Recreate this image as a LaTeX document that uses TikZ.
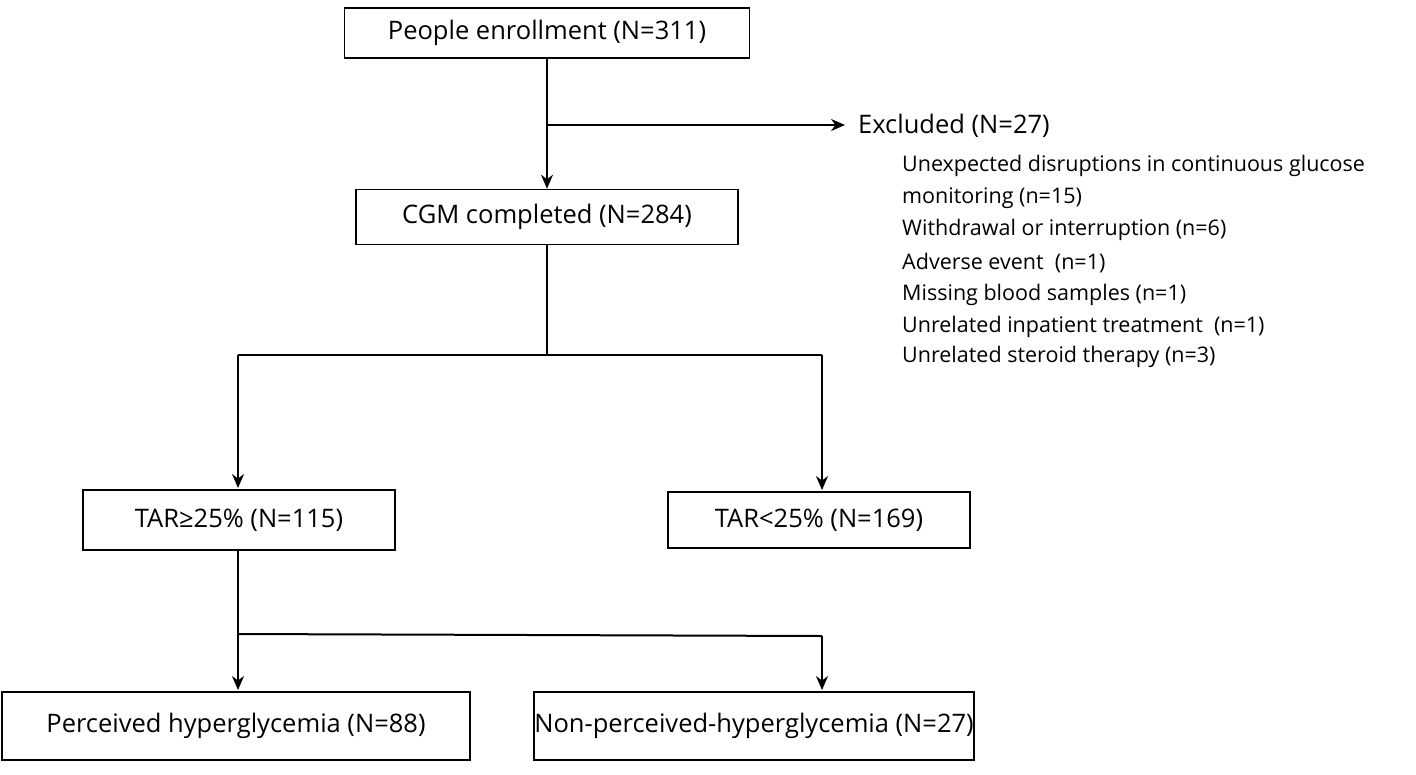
\documentclass[tikz,border=0pt]{standalone}
\usepackage{fontspec}
\setmainfont{Open Sans}
\usetikzlibrary{arrows.meta}
\begin{document}
\begin{tikzpicture}[x=1pt,y=-1pt,
  box/.style={draw,line width=1.6pt,inner sep=0pt,font=\fontsize{25.5}{30}\selectfont},
  ln/.style={line width=2pt},
  arr/.style={line width=2pt,-{Stealth[length=14pt,width=12pt]}},
  lst/.style={anchor=west,inner sep=0pt,font=\fontsize{21.5}{26}\selectfont}]
\useasboundingbox (0,0) rectangle (1416,774);
\node[box,minimum width=405,minimum height=50] (b1) at (547,33) {People enrollment (N=311)};
\node[box,minimum width=382,minimum height=55] (b2) at (547,217) {CGM completed (N=284)};
\node[box,minimum width=312,minimum height=60] (b3) at (239,520) {TAR≥25\% (N=115)};
\node[box,minimum width=302,minimum height=56] (b4) at (819,520) {TAR<25\% (N=169)};
\node[box,minimum width=468,minimum height=68] (b5) at (236,726) {Perceived hyperglycemia (N=88)};
\node[box,minimum width=439,minimum height=68] (b6) at (754,726) {Non-perceived-hyperglycemia (N=27)};
\node[anchor=west,inner sep=0pt,font=\fontsize{25.5}{30}\selectfont] (ex) at (858,126) {Excluded (N=27)};
\node[lst] (l1) at (902,166) {Unexpected disruptions in continuous glucose};
\node[lst] (l2) at (902,198) {monitoring (n=15)};
\node[lst] (l3) at (902,230) {Withdrawal or interruption (n=6)};
\node[lst] (l4) at (902,263) {Adverse event\ \ (n=1)};
\node[lst] (l5) at (902,295) {Missing blood samples (n=1)};
\node[lst] (l6) at (902,327) {Unrelated inpatient treatment\ \ (n=1)};
\node[lst] (l7) at (902,357) {Unrelated steroid therapy (n=3)};
\coordinate (j1) at (547,125);
\draw[arr] (b1.south) -- (b2.north);
\draw[arr] (j1) -- (845,125);
\coordinate (j2) at (547,355);
\draw[ln] (b2.south) -- (j2);
\draw[ln] (238,355) -- (822,355);
\draw[arr] (238,355) -- (238,488);
\draw[arr] (822,355) -- (822,490);
\coordinate (j3) at (238,634);
\draw[arr] (238,550) -- (238,690);
\draw[ln] (j3) -- (822,636);
\draw[arr] (822,636) -- (822,690);
\end{tikzpicture}
\end{document}
